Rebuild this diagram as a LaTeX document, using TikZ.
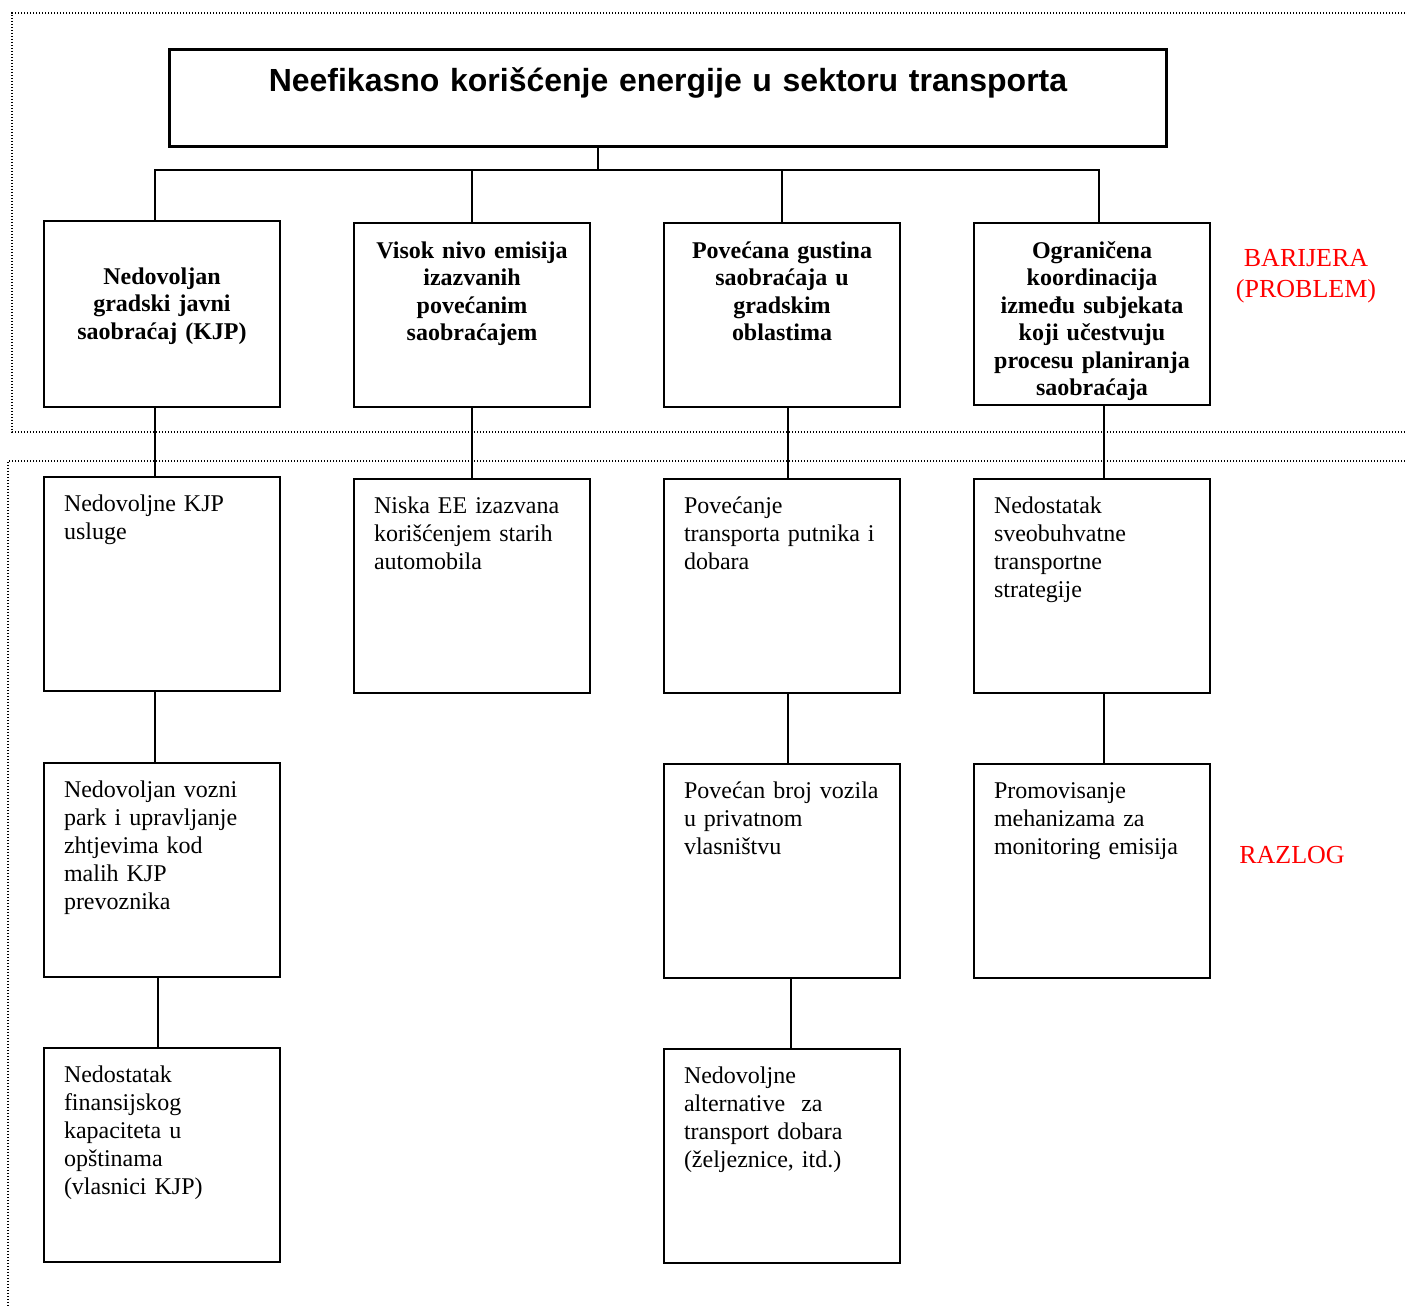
\documentclass[tikz,border=0pt]{standalone}
\usepackage{fontspec}
\setmainfont{Liberation Serif}
\newfontfamily\arialfont{Liberation Sans}

\begin{document}
\begin{tikzpicture}[x=0.5pt, y=-0.5pt,
    titlebox/.style={draw, line width=1.5pt, anchor=north west, inner xsep=0pt, inner ysep=0pt,
      text width=498.5pt, align=center, text height=21pt, text depth=27.5pt,
      font=\arialfont\fontsize{16}{19}\selectfont\bfseries},
    barbox/.style={draw, line width=1pt, anchor=north west, inner xsep=4pt, inner ysep=0pt,
      text width=110pt, align=center, text height=17.5pt, text depth=74.5pt,
      font=\fontsize{12}{13.75}\selectfont\bfseries},
    causebox/.style={draw, line width=1pt, anchor=north west, inner xsep=10pt, inner ysep=0pt,
      text width=98pt, align=left, text height=17pt, text depth=90pt,
      font=\fontsize{12}{14}\selectfont},
    link/.style={line width=0.75pt},
    frame/.style={line width=0.6pt, dash pattern=on 0.6pt off 0.9pt},
    note/.style={text=red, align=center, font=\fontsize{13}{15.5}\selectfont}]
    \useasboundingbox (0,0) rectangle (1405,1306);

    \draw[frame] (1405,13) -| (12,432) -- (1405,432);
    \draw[frame] (1405,461) -| (8,1306);

    \node[titlebox] (problem) at (168,48) {Neefikasno korišćenje energije u sektoru transporta};

    \node[barbox, text height=31.5pt, text depth=61.5pt] (b1) at (43,220) {Nedovoljan\\gradski javni\\saobraćaj (KJP)};
    \node[barbox] (b2) at (353,222) {Visok nivo emisija\\izazvanih\\povećanim\\saobraćajem};
    \node[barbox] (b3) at (663,222) {Povećana gustina\\saobraćaja u\\gradskim\\oblastima};
    \node[barbox, text depth=73.5pt] (b4) at (973,222) {Ograničena\\koordinacija\\između subjekata\\koji učestvuju\\procesu planiranja\\saobraćaja};

    \node[causebox] (r1) at (43,476) {Nedovoljne KJP\\usluge};
    \node[causebox] (r2) at (353,478) {Niska EE izazvana\\korišćenjem starih\\automobila};
    \node[causebox] (r3) at (663,478) {Povećanje\\transporta putnika i\\dobara};
    \node[causebox] (r4) at (973,478) {Nedostatak\\sveobuhvatne\\transportne\\strategije};

    \node[causebox] (s1) at (43,762) {Nedovoljan vozni\\park i upravljanje\\zhtjevima kod\\malih KJP\\prevoznika};
    \node[causebox] (s3) at (663,763) {Povećan broj vozila\\u privatnom\\vlasništvu};
    \node[causebox] (s4) at (973,763) {Promovisanje\\mehanizama za\\monitoring emisija};

    \node[causebox] (t1) at (43,1047) {Nedostatak\\finansijskog\\kapaciteta u\\opštinama\\(vlasnici KJP)};
    \node[causebox] (t3) at (663,1048) {Nedovoljne\\alternative\ \ za\\transport dobara\\(željeznice, itd.)};

    \node[note] (barijera) at (1306,276) {BARIJERA\\(PROBLEM)};
    \node[note, anchor=base] (razlog) at (1292,863) {RAZLOG};

    \coordinate (bus) at (598,170);
    \draw[link] (problem.south -| bus) -- (bus);
    \draw[link] ([xshift=-3.5pt]b1.north) |- (bus) -| ([xshift=3.5pt]b4.north);
    \draw[link] (b2.north) -- (b2.north |- bus);
    \draw[link] (b3.north) -- (b3.north |- bus);

    \draw[link] ([xshift=-3.5pt]b1.south) -- ([xshift=-3.5pt]r1.north);
    \draw[link] (b2.south) -- (r2.north);
    \draw[link] ([xshift=3pt]b3.south) -- ([xshift=3pt]r3.north);
    \draw[link] ([xshift=6pt]b4.south) -- ([xshift=6pt]r4.north);

    \draw[link] ([xshift=-3.5pt]r1.south) -- ([xshift=-3.5pt]s1.north);
    \draw[link] ([xshift=3pt]r3.south) -- ([xshift=3pt]s3.north);
    \draw[link] ([xshift=6pt]r4.south) -- ([xshift=6pt]s4.north);

    \draw[link] ([xshift=-2pt]s1.south) -- ([xshift=-2pt]t1.north);
    \draw[link] ([xshift=4.5pt]s3.south) -- ([xshift=4.5pt]t3.north);
  \end{tikzpicture}
\end{document}
